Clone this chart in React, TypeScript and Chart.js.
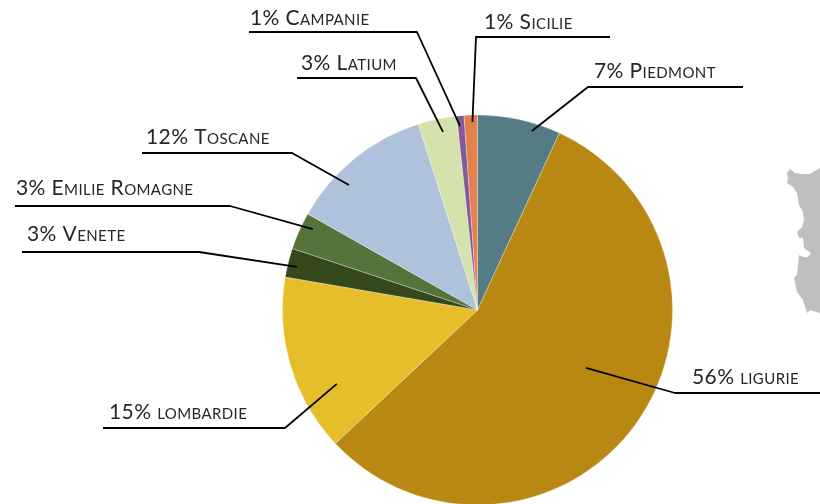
import React, { useEffect, useRef } from "react";
import { Chart, registerables } from "chart.js";

Chart.register(...registerables);

const regions = ["Piedmont", "ligurie", "lombardie", "Venete", "Emilie Romagne", "Toscane", "Latium", "Campanie", "Sicilie"];
const shares = [6.9, 56.1, 14.7, 2.4, 3.1, 11.9, 3.2, 0.6, 1.1];
const shareLabels = [7, 56, 15, 3, 3, 12, 3, 1, 1];
const colors = ["#557C85", "#B98813", "#E6BE2A", "#35481C", "#55733A", "#AEC2DB", "#D6E2AC", "#85589A", "#E2804E"];

// Callout layout per region: text x, rule y, rule start x, elbow x, tip offset from the pie centre in radii
const callouts = [
  { tx: 594, base: 78, ruleY: 87, from: 743, elbow: 588, ux: 0.279, uy: -0.918 },
  { tx: 692, base: 384, ruleY: 393, from: 820, elbow: 675, ux: 0.556, uy: 0.297 },
  { tx: 109, base: 419, ruleY: 428, from: 103, elbow: 285, ux: -0.721, uy: 0.379 },
  { tx: 27, base: 241, ruleY: 252, from: 22, elbow: 199, ux: -0.926, uy: -0.221 },
  { tx: 16, base: 195, ruleY: 206, from: 15, elbow: 230, ux: -0.844, uy: -0.415 },
  { tx: 146, base: 144, ruleY: 153, from: 142, elbow: 292, ux: -0.659, uy: -0.641 },
  { tx: 301, base: 70, ruleY: 78, from: 297, elbow: 416, ux: -0.177, uy: -0.913 },
  { tx: 250, base: 25, ruleY: 32, from: 249, elbow: 417, ux: -0.090, uy: -0.944 },
  { tx: 484, base: 29, ruleY: 37, from: 610, elbow: 476, ux: -0.026, uy: -0.964 },
];

// Decorative grey map fragment at the right edge
const mapOutline = [
  [790, 169], [787, 173], [788, 178], [787, 183], [793, 187], [797, 193], [799, 205], [803, 212],
  [804, 220], [802, 227], [797, 232], [799, 238], [803, 238], [804, 248], [811, 253], [808, 257],
  [803, 257], [799, 255], [798, 265], [797, 275], [794, 278], [795, 283], [797, 292], [803, 300],
  [807, 313], [810, 310], [820, 313], [820, 168], [810, 174], [803, 174], [795, 173],
];

const decorPlugin = {
  id: "decor",
  beforeDraw(chart: any) {
    const ctx = chart.ctx;
    ctx.save();
    ctx.fillStyle = "#BFBFBF";
    ctx.beginPath();
    mapOutline.forEach(([x, y], i) => (i ? ctx.lineTo(x, y) : ctx.moveTo(x, y)));
    ctx.closePath();
    ctx.fill();
    ctx.restore();
  },
  afterDraw(chart: any) {
    const ctx = chart.ctx;
    const arcs = chart.getDatasetMeta(0).data;
    ctx.save();
    arcs.forEach((arc: any, i: number) => {
      const c = callouts[i];
      ctx.strokeStyle = "#000000";
      ctx.lineWidth = 1.8;
      ctx.lineJoin = "round";
      ctx.beginPath();
      ctx.moveTo(c.from, c.ruleY);
      ctx.lineTo(c.elbow, c.ruleY);
      ctx.lineTo(arc.x + c.ux * arc.outerRadius, arc.y + c.uy * arc.outerRadius);
      ctx.stroke();
      ctx.fillStyle = "#262626";
      ctx.font = "small-caps 400 21px Lato";
      ctx.letterSpacing = "0.4px";
      ctx.textBaseline = "alphabetic";
      ctx.textAlign = "left";
      ctx.fillText(`${shareLabels[i]}% ${regions[i]}`, c.tx, c.base);
    });
    ctx.restore();
  },
};

export default function App() {
  const ref = useRef<HTMLCanvasElement>(null);
  useEffect(() => {
    const chart = new Chart(ref.current!, {
      type: "pie",
      data: {
        labels: regions,
        datasets: [{ data: shares, backgroundColor: colors, borderColor: "#FFFFFF", borderWidth: 0.3 }],
      },
      options: {
        responsive: false,
        animation: false,
        layout: { padding: { left: 282.3, right: 147.3, top: 114.8, bottom: 14.8 } },
        plugins: { legend: { display: false }, tooltip: { enabled: false } },
      },
      plugins: [decorPlugin],
    });
    return () => chart.destroy();
  }, []);
  return (
    <div style={{ position: "absolute", left: 0, top: 0, width: 820, height: 504, overflow: "hidden", background: "#fff" }}>
      <canvas ref={ref} width={820} height={520} style={{ display: "block" }} />
    </div>
  );
}
